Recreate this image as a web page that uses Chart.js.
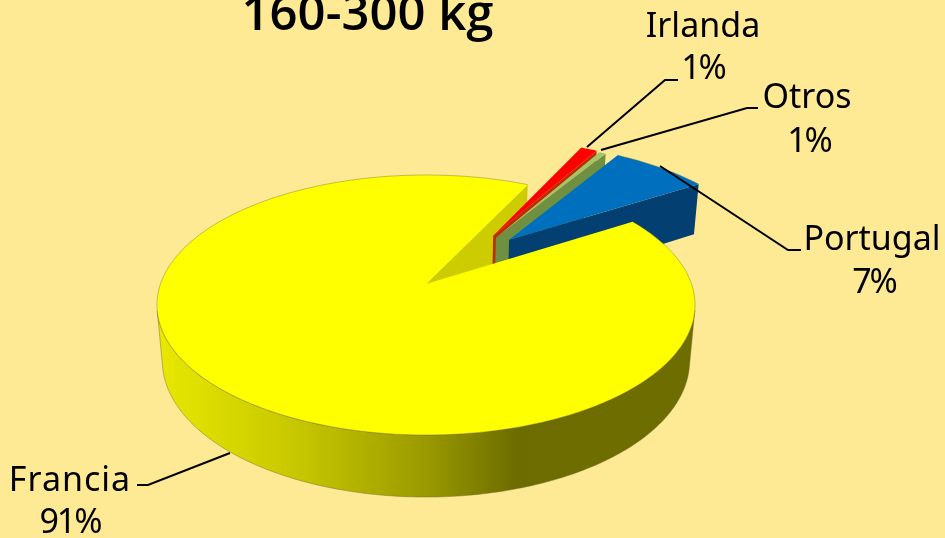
<!DOCTYPE html>
<html lang="es">
<head>
    <meta charset="UTF-8">
    <title>160-300 kg</title>
    <script src="https://cdn.jsdelivr.net/npm/chart.js"></script>
    <style>
        html, body { margin: 0; padding: 0; background: #FEE994; }
        #wrap { width: 945px; height: 538px; overflow: hidden; }
    </style>
</head>
<body>
    <div id="wrap"><canvas id="pie"></canvas></div>

    <script>
        // Data
        const chartTitle = '160-300 kg';
        const categories = ['Francia', 'Irlanda', 'Otros', 'Portugal'];
        const shares = [91.2, 1.2, 0.5, 7.1];

        // Slice styles
        const topColors = ['#FFFF00', '#FF0000', '#A3C468', '#0070BE'];
        const wallColors = ['#CCCC00', '#BF2A00', '#6F9040', '#033F70'];
        const explode = [0, 105, 103, 107];
        const explodeDir = [0, 33.6, 35.8, 41.9]; // degrees from top, Excel does not push along the mid angle

        // Where each label sits, and its leader line
        const labelSpots = [
            { x: 70, y: 491, pctX: 70, pctY: 533, spacing: 1, line: [[230, 453], [148, 485], [137, 485]] },
            { x: 703, y: 37, pctX: 703, pctY: 79, spacing: 0, line: [[587, 147], [665, 80], [678, 80]] },
            { x: 807, y: 108, pctX: 809, pctY: 152, spacing: 0, line: [[601, 150], [747, 108], [758, 108]] },
            { x: 872, y: 250, pctX: 874, pctY: 293, spacing: 0, line: [[660, 166], [788, 250], [801, 250]] }
        ];

        // Perspective of the pie: unit circle (u, v), drop = 0 top face, 1 bottom face
        const view = { x: 426, y: 284, B: 265.5, A: 126.6, k: 0.1615, m: 0.02, C: 56.3 };

        function project(u, v, drop) {
            const w = 1 + view.k * v + view.m * drop;
            return [view.x + view.B * u / w, view.y + (-view.A * v + view.C * drop) / w];
        }

        function tracePath(ctx, pts) {
            ctx.beginPath();
            pts.forEach((p, i) => i ? ctx.lineTo(p[0], p[1]) : ctx.moveTo(p[0], p[1]));
            ctx.closePath();
        }

        function sideGradient(ctx) {
            const g = ctx.createLinearGradient(155, 0, 695, 0);
            g.addColorStop(0, '#E9E900');
            g.addColorStop(0.27, '#C6C600');
            g.addColorStop(0.5, '#9A9A00');
            g.addColorStop(0.67, '#6C6C00');
            g.addColorStop(1, '#6E6E00');
            return g;
        }

        // Draws the arc elements the library laid out, tilted and with a height
        const tiltedPie = {
            id: 'tiltedPie',
            beforeDatasetsDraw(chart) {
                const ctx = chart.ctx;
                const arcs = chart.getDatasetMeta(0).data;

                const slice = i => {
                    const arc = arcs[i];
                    const dir = explodeDir[i] * Math.PI / 180;
                    const off = arc.options.offset / arc.outerRadius;
                    const ou = off * Math.sin(dir), ov = off * Math.cos(dir);
                    const outer = [];
                    const steps = Math.max(4, Math.ceil((arc.endAngle - arc.startAngle) * 60));
                    for (let s = 0; s <= steps; s++) {
                        const a = arc.startAngle + (arc.endAngle - arc.startAngle) * s / steps;
                        outer.push([ou + Math.cos(a), ov - Math.sin(a)]);
                    }
                    return { apex: [ou, ov], outer };
                };

                const drawWalls = (i, s) => {
                    // outer wall, only the part that faces the viewer
                    let run = [];
                    const flush = () => {
                        if (run.length > 1) {
                            const top = run.map(p => project(p[0], p[1], 0));
                            const bottom = run.map(p => project(p[0], p[1], 1)).reverse();
                            tracePath(ctx, top.concat(bottom));
                            ctx.fillStyle = i === 0 ? sideGradient(ctx) : wallColors[i];
                            ctx.fill();
                            if (i === 0) {
                                // the top face is painted later and hides the upper part of this
                                ctx.strokeStyle = 'rgba(110,105,50,0.45)';
                                ctx.lineWidth = 1;
                                ctx.stroke();
                            }
                        }
                        run = [];
                    };
                    for (let n = 0; n < s.outer.length - 1; n++) {
                        const a = project(s.outer[n][0], s.outer[n][1], 0);
                        const b = project(s.outer[n + 1][0], s.outer[n + 1][1], 0);
                        const c = project(s.outer[n][0], s.outer[n][1], 1);
                        const facing = (b[0] - a[0]) * (c[1] - a[1]) - (b[1] - a[1]) * (c[0] - a[0]) < 0;
                        if (facing) {
                            if (!run.length) run.push(s.outer[n]);
                            run.push(s.outer[n + 1]);
                        } else {
                            flush();
                        }
                    }
                    flush();

                    // cut wall on the closing edge of the slice
                    const end = s.outer[s.outer.length - 1];
                    tracePath(ctx, [
                        project(s.apex[0], s.apex[1], 0),
                        project(end[0], end[1], 0),
                        project(end[0], end[1], 1),
                        project(s.apex[0], s.apex[1], 1)
                    ]);
                    ctx.fillStyle = wallColors[i];
                    ctx.fill();
                };

                const drawTop = (i, s) => {
                    const rim = s.outer.map(p => project(p[0], p[1], 0));
                    tracePath(ctx, [project(s.apex[0], s.apex[1], 0)].concat(rim));
                    ctx.fillStyle = topColors[i];
                    ctx.fill();
                    if (i === 0 || i === 3) {
                        ctx.strokeStyle = 'rgba(110,105,50,0.4)';
                        ctx.lineWidth = 1;
                        ctx.beginPath();
                        rim.forEach((p, n) => n ? ctx.lineTo(p[0], p[1]) : ctx.moveTo(p[0], p[1]));
                        ctx.stroke();
                    }
                };

                const slices = arcs.map((a, i) => slice(i));
                drawWalls(0, slices[0]);
                for (let i = 1; i < arcs.length; i++) {
                    drawWalls(i, slices[i]);
                    drawTop(i, slices[i]);
                }
                drawTop(0, slices[0]);

                return false; // the flat pie is not wanted
            },
            afterDraw(chart) {
                const ctx = chart.ctx;
                ctx.save();

                // leader lines
                ctx.strokeStyle = '#000';
                ctx.lineWidth = 2;
                labelSpots.forEach(spot => {
                    ctx.beginPath();
                    spot.line.forEach((p, n) => n ? ctx.lineTo(p[0], p[1]) : ctx.moveTo(p[0], p[1]));
                    ctx.stroke();
                });

                // labels
                ctx.fillStyle = '#000';
                ctx.textAlign = 'center';
                ctx.textBaseline = 'alphabetic';
                ctx.font = '34px "Noto Sans"';
                labelSpots.forEach((spot, i) => {
                    ctx.letterSpacing = spot.spacing + 'px';
                    ctx.fillText(categories[i], spot.x, spot.y);
                    ctx.letterSpacing = '-2px';
                    ctx.fillText(Math.round(shares[i]) + '%', spot.pctX, spot.pctY);
                });

                ctx.letterSpacing = '0px';
                ctx.font = '600 49px "Open Sans"';
                ctx.fillText(chartTitle, 367.5, 30);
                ctx.restore();
            }
        };

        new Chart(document.getElementById('pie'), {
            type: 'pie',
            data: {
                labels: categories,
                datasets: [{
                    data: shares,
                    backgroundColor: topColors,
                    borderWidth: 0,
                    offset: explode
                }]
            },
            options: {
                responsive: true,
                maintainAspectRatio: false,
                animation: false,
                rotation: 57.7,
                plugins: {
                    legend: { display: false },
                    tooltip: { enabled: false }
                }
            },
            plugins: [tiltedPie]
        });
    </script>
</body>
</html>
